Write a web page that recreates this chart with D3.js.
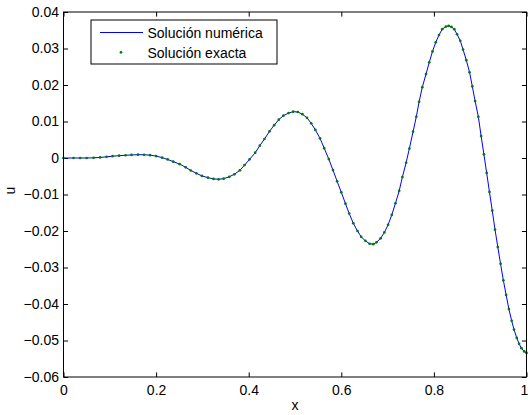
<!DOCTYPE html>
<html>
<head>
<meta charset="utf-8">
<script src="https://cdn.jsdelivr.net/npm/d3@7"></script>
<style>
  body { margin: 0; background: #fff; }
  svg { display: block; }
  text { font-family: "Liberation Sans", Arial, Helvetica, sans-serif; font-size: 14px; fill: #000; }
</style>
</head>
<body>
<svg id="chart" width="528" height="415"></svg>
<script>
// Mesh nodes (x) and solution values u at each node
const xNodes = [
  0, 0.0215, 0.036, 0.050, 0.065, 0.079, 0.093, 0.106, 0.120, 0.134,
  0.147, 0.161, 0.174, 0.187, 0.200, 0.213, 0.225, 0.237, 0.251, 0.264,
  0.275, 0.287, 0.299, 0.312, 0.324, 0.335, 0.346, 0.358, 0.369, 0.381,
  0.391, 0.402, 0.414, 0.424, 0.434, 0.445, 0.455, 0.465, 0.475, 0.486,
  0.496, 0.506, 0.516, 0.526, 0.535, 0.544, 0.554, 0.563, 0.573, 0.582,
  0.591, 0.600, 0.609, 0.617, 0.626, 0.635, 0.643, 0.652, 0.661, 0.669,
  0.676, 0.685, 0.693, 0.701, 0.709, 0.717, 0.725, 0.732, 0.740, 0.747,
  0.755, 0.762, 0.768, 0.775, 0.783, 0.790, 0.797, 0.804, 0.811, 0.818,
  0.826, 0.832, 0.838, 0.844, 0.850, 0.857, 0.863, 0.870, 0.877, 0.883,
  0.889, 0.896, 0.902, 0.908, 0.914, 0.920, 0.926, 0.932, 0.938, 0.944,
  0.950, 0.956, 0.962, 0.968, 0.973, 0.979, 0.984, 0.989, 0.995, 1.000
];
const uValues = [
  0, 0, 0, 0, 0.00005, 0.00015, 0.00032, 0.00050, 0.00063, 0.00075,
  0.00084, 0.00090, 0.00089, 0.00078, 0.00052, 0.00010, -0.00040, -0.00100, -0.00168, -0.00255,
  -0.00342, -0.00419, -0.00490, -0.00539, -0.00572, -0.00583, -0.00567, -0.00515, -0.00446, -0.00337,
  -0.00195, -0.00036, 0.00145, 0.00337, 0.00520, 0.00730, 0.00900, 0.01050, 0.01160, 0.01230,
  0.01270, 0.01260, 0.01200, 0.01100, 0.00950, 0.00770, 0.00540, 0.00270, -0.00030, -0.00330,
  -0.00640, -0.00940, -0.01250, -0.01520, -0.01790, -0.02000, -0.02160, -0.02270, -0.02350, -0.02360,
  -0.02310, -0.02200, -0.02040, -0.01830, -0.01560, -0.01240, -0.00900, -0.00520, -0.00130, 0.00260,
  0.00720, 0.01130, 0.01540, 0.01940, 0.02300, 0.02620, 0.02920, 0.03170, 0.03370, 0.03530,
  0.03600, 0.03620, 0.03590, 0.03530, 0.03390, 0.03210, 0.02970, 0.02680, 0.02350, 0.01960,
  0.01560, 0.01130, 0.00600, 0.00100, -0.00410, -0.00930, -0.01440, -0.01960, -0.02440, -0.02900,
  -0.03350, -0.03750, -0.04140, -0.04460, -0.04700, -0.04930, -0.05090, -0.05210, -0.05300, -0.05340
];
const xTicks = [0, 0.2, 0.4, 0.6, 0.8, 1];
const yTicks = [-0.06, -0.05, -0.04, -0.03, -0.02, -0.01, 0, 0.01, 0.02, 0.03, 0.04];
const seriesNames = ["Solución numérica", "Solución exacta"];
const xLabel = "x";
const yLabel = "u";

const svg = d3.select("#chart");
const plotLeft = 63.5, plotRight = 526.5, plotTop = 12, plotBottom = 377;
const x = d3.scaleLinear().domain([0, 1]).range([plotLeft, plotRight]);
const y = d3.scaleLinear().domain([-0.06, 0.04]).range([plotBottom, plotTop]);
const tickLen = 4.6;

const fmtY = v => v === 0 ? "0" : (v < 0 ? "\u2212" : "") + Math.abs(v).toFixed(2);
const fmtX = v => String(v);

// Axes: ticks point inward on every side
const gBottom = svg.append("g").attr("transform", `translate(0,${plotBottom})`)
  .call(d3.axisBottom(x).tickValues(xTicks).tickFormat(fmtX).tickSizeInner(-tickLen).tickSizeOuter(0).tickPadding(8));
const gTop = svg.append("g").attr("transform", `translate(0,${plotTop})`)
  .call(d3.axisTop(x).tickValues(xTicks).tickFormat("").tickSizeInner(-tickLen).tickSizeOuter(0));
const gLeft = svg.append("g").attr("transform", `translate(${plotLeft},0)`)
  .call(d3.axisLeft(y).tickValues(yTicks).tickFormat(fmtY).tickSizeInner(-tickLen).tickSizeOuter(0).tickPadding(4.5));
const gRight = svg.append("g").attr("transform", `translate(${plotRight},0)`)
  .call(d3.axisRight(y).tickValues(yTicks).tickFormat("").tickSizeInner(-tickLen).tickSizeOuter(0));

[gBottom, gTop, gLeft, gRight].forEach(g => {
  g.select(".domain").remove();
  g.selectAll("line").attr("stroke", "#000").attr("stroke-width", 1);
  g.selectAll("text").attr("font-family", null).attr("font-size", null).attr("fill", "#000");
});
// keep the last x label inside the page edge
gBottom.selectAll(".tick text").filter(d => d === 1).attr("dx", -2.5);

// Data: numerical solution (line) and exact solution (dots)
const pts = xNodes.map((xv, i) => [xv, uValues[i]]);
const line = d3.line().x(d => x(d[0])).y(d => y(d[1]));

const plot = svg.append("g");
plot.append("path").datum(pts)
  .attr("d", line).attr("fill", "none").attr("stroke", "#0000ff").attr("stroke-width", 1);
plot.selectAll("circle.exact").data(pts).enter().append("circle")
  .attr("class", "exact")
  .attr("cx", d => x(d[0])).attr("cy", d => y(d[1])).attr("r", 1.35)
  .attr("fill", "#007a00");

// Frame
svg.append("rect").attr("x", plotLeft).attr("y", plotTop)
  .attr("width", plotRight - plotLeft).attr("height", plotBottom - plotTop)
  .attr("fill", "none").attr("stroke", "#000").attr("stroke-width", 1);

// Axis labels
svg.append("text").attr("x", (plotLeft + plotRight) / 2).attr("y", 410)
  .attr("text-anchor", "middle").text(xLabel);
svg.append("text").attr("transform", `translate(15,${(plotTop + plotBottom) / 2 - 4}) rotate(-90)`)
  .attr("text-anchor", "middle").text(yLabel);

// Legend
const lg = svg.append("g");
lg.append("rect").attr("x", 91).attr("y", 20).attr("width", 186).attr("height", 44)
  .attr("fill", "#fff").attr("stroke", "#000").attr("stroke-width", 1);
lg.append("line").attr("x1", 100).attr("x2", 143).attr("y1", 32.5).attr("y2", 32.5)
  .attr("stroke", "#0000ff").attr("stroke-width", 1);
lg.append("circle").attr("cx", 121).attr("cy", 52.3).attr("r", 1.35).attr("fill", "#007a00");
lg.append("text").attr("x", 147.5).attr("y", 37.5).text(seriesNames[0]);
lg.append("text").attr("x", 147.5).attr("y", 57.5).text(seriesNames[1]);
</script>
</body>
</html>
